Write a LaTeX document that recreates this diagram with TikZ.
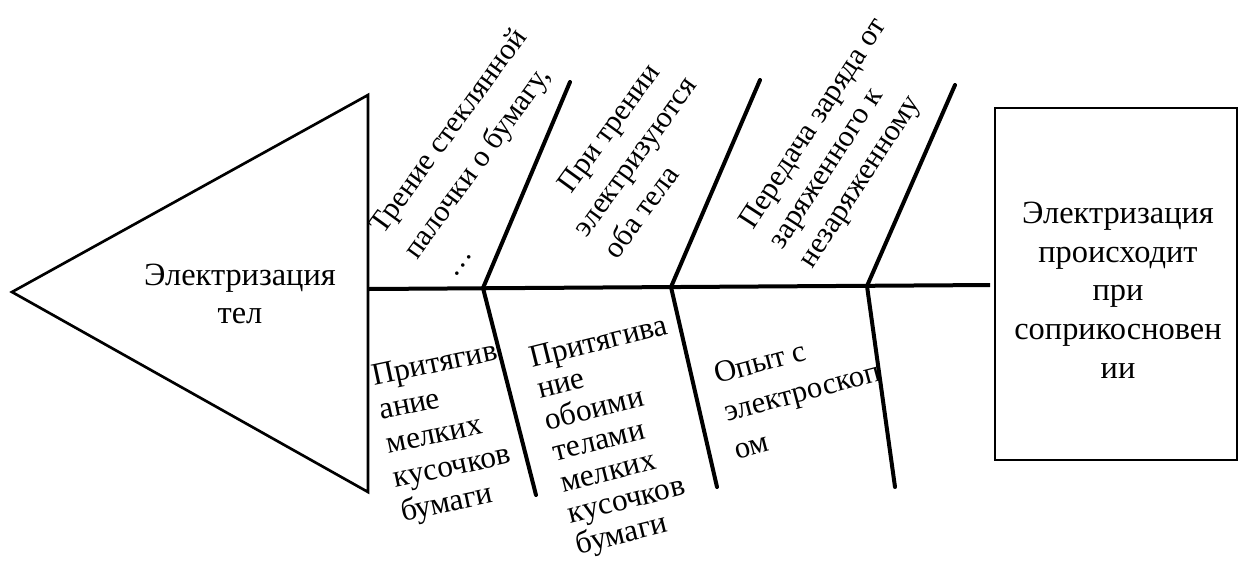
\documentclass[tikz,border=0pt]{standalone}
\usepackage{fontspec}
\setmainfont{Liberation Serif}
\newcommand{\blk}[2]{{\def\arraystretch{1}\begin{tabular}[t]{@{}#1@{}}#2\end{tabular}}}
\begin{document}
\begin{tikzpicture}[x=0.75pt,y=0.75pt,
  bone/.style={line width=3pt,line cap=round},
  spine/.style={line width=3pt},
  lbl/.style={inner sep=0pt,font=\fontsize{24.3}{29}\selectfont},
  rot/.style={inner sep=0pt,anchor=base west}]
\useasboundingbox (0,0) rectangle (1238,-562);
% head triangle
\coordinate (tl) at (12,-292);
\coordinate (tt) at (368,-95);
\coordinate (tb) at (368,-492);
\draw[line width=2pt,line join=miter] (tl) -- (tt) -- (tb) -- cycle;
\node[lbl,align=center] (head) at (240,-294) {Электризация\\тел};
% spine
\coordinate (s0) at (368,-289);
\coordinate (s1) at (990,-285);
\draw[spine] (s0) -- (s1);
% joints
\coordinate (j1) at (483,-288);
\coordinate (j2) at (671,-287);
\coordinate (j3) at (867,-286);
% upper bone ends
\coordinate (u1) at (570,-82);
\coordinate (u2) at (760,-80);
\coordinate (u3) at (955,-85);
% lower bone ends
\coordinate (d1) at (536,-495);
\coordinate (d2) at (717,-487);
\coordinate (d3) at (895,-487);
\draw[bone] (j1) -- (u1);
\draw[bone] (j2) -- (u2);
\draw[bone] (j3) -- (u3);
\draw[bone] (j1) -- (d1);
\draw[bone] (j2) -- (d2);
\draw[bone] (j3) -- (d3);
% upper labels
\node[rot,rotate=54,font=\fontsize{22.6}{31.5}\selectfont] (t1) at (383,-236)
  {\blk{l}{Трение стеклянной\\палочки о бумагу,\\\hspace*{6pt}…}};
\node[rot,rotate=54,font=\fontsize{22.6}{28.5}\selectfont] (t2) at (556,-216)
  {\blk{l}{\hspace*{20pt}При трении\\электризуются\\оба тела}};
\node[rot,rotate=57,font=\fontsize{22.6}{26.5}\selectfont] (t3) at (753,-231)
  {\blk{l}{Передача заряда от\\заряженного к\\незаряженному}};
% lower labels
\node[rot,rotate=12,font=\fontsize{23.5}{26}\selectfont] (b1) at (374,-386)
  {\blk{l}{Притягив\\ание\\мелких\\кусочков\\бумаги}};
\node[rot,rotate=14,font=\fontsize{23.5}{24}\selectfont] (b2) at (532,-368)
  {\blk{l}{Притягива\\ние\\обоими\\телами\\мелких\\кусочков\\бумаги}};
\node[rot,rotate=15,font=\fontsize{23}{29.25}\selectfont] (b3) at (717,-384)
  {\blk{l}{Опыт с\\электроскоп\\ом}};
% result box
\draw[line width=1.2pt] (995,-108) rectangle (1237,-460);
\node[lbl,align=center] (res) at (1118,-290) {Электризация\\происходит\\при\\соприкосновен\\ии};
\end{tikzpicture}
\end{document}
